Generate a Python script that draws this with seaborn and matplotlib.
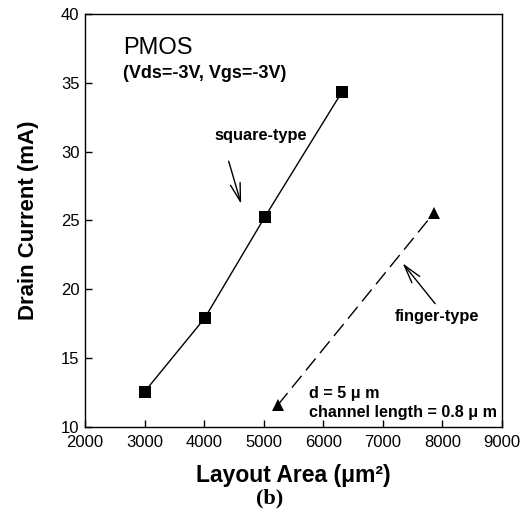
import pandas as pd
import matplotlib.pyplot as plt
import seaborn as sns

# --- Data ---
square_area = [3000, 4010, 5020, 6310]
square_current = [12.55, 17.9, 25.25, 34.3]
finger_area = [5240, 7860]
finger_current = [11.6, 25.55]

x_ticks = [2000, 3000, 4000, 5000, 6000, 7000, 8000, 9000]
y_ticks = [10, 15, 20, 25, 30, 35, 40]


def main():
    sns.set_theme(style="white")
    plt.rcParams['font.family'] = ['Liberation Sans', 'DejaVu Sans']
    plt.rcParams['text.color'] = 'black'
    plt.rcParams['axes.labelcolor'] = 'black'
    plt.rcParams['xtick.color'] = 'black'
    plt.rcParams['ytick.color'] = 'black'

    sq = pd.DataFrame({'area': square_area, 'current': square_current})
    fg = pd.DataFrame({'area': finger_area, 'current': finger_current})

    fig = plt.figure(figsize=(5.26, 5.29), dpi=100)
    ax = fig.add_axes([0.1616, 0.193, 0.7924, 0.7805])

    sns.lineplot(data=sq, x='area', y='current', ax=ax, color='black',
                 linewidth=1.0, marker='s', markersize=8.5, markeredgewidth=0)
    sns.lineplot(data=fg, x='area', y='current', ax=ax, color='black',
                 linewidth=1.0, marker='^', markersize=9, markeredgewidth=0)
    ax.lines[-1].set_dashes([11, 5])

    ax.set_xlim(2000, 9000)
    ax.set_ylim(10, 40)
    ax.set_xticks(x_ticks)
    ax.set_yticks(y_ticks)
    ax.tick_params(direction='in', length=5, width=1, color='black',
                   labelsize=12, top=False, right=False, bottom=True, left=True)
    ax.tick_params(axis='x', pad=6)
    ax.tick_params(axis='y', pad=4)
    for s in ax.spines.values():
        s.set_color('black')
        s.set_linewidth(1.0)

    ax.set_xlabel('Layout Area (\u03bcm\u00b2)', fontsize=16.5, fontweight='bold', labelpad=10)
    ax.set_ylabel('Drain Current (mA)', fontsize=16, fontweight='bold', labelpad=16)

    # Text annotations
    ax.text(2640, 37.55, 'PMOS', fontsize=17, ha='left', va='center')
    ax.text(2640, 35.7, '(Vds=-3V, Vgs=-3V)', fontsize=13, fontweight='bold',
            ha='left', va='center')
    ax.text(4180, 31.2, 'square-type', fontsize=11.8, fontweight='bold',
            ha='left', va='center')
    ax.annotate('', xy=(4636, 26.0), xytext=(4400, 29.5),
                arrowprops=dict(arrowstyle='->,head_length=1.1,head_width=0.3',
                                color='black', lw=1.0))
    ax.text(7200, 18.0, 'finger-type', fontsize=11.8, fontweight='bold',
            ha='left', va='center')
    ax.annotate('', xy=(7305, 22.05), xytext=(7909, 18.8),
                arrowprops=dict(arrowstyle='->,head_length=1.1,head_width=0.3',
                                color='black', lw=1.0))
    ax.text(5760, 12.4, 'd = 5 \u03bc m', fontsize=11.6, fontweight='bold',
            ha='left', va='center')
    ax.text(5760, 11.05, 'channel length = 0.8 \u03bc m', fontsize=11.6, fontweight='bold',
            ha='left', va='center')

    fig.text(0.513, 0.0586, '(b)', fontsize=16, fontweight='bold',
             family=['Liberation Serif', 'DejaVu Serif'], ha='center', va='center')

    plt.savefig('out.png', dpi=100)


if __name__ == "__main__":
    main()
